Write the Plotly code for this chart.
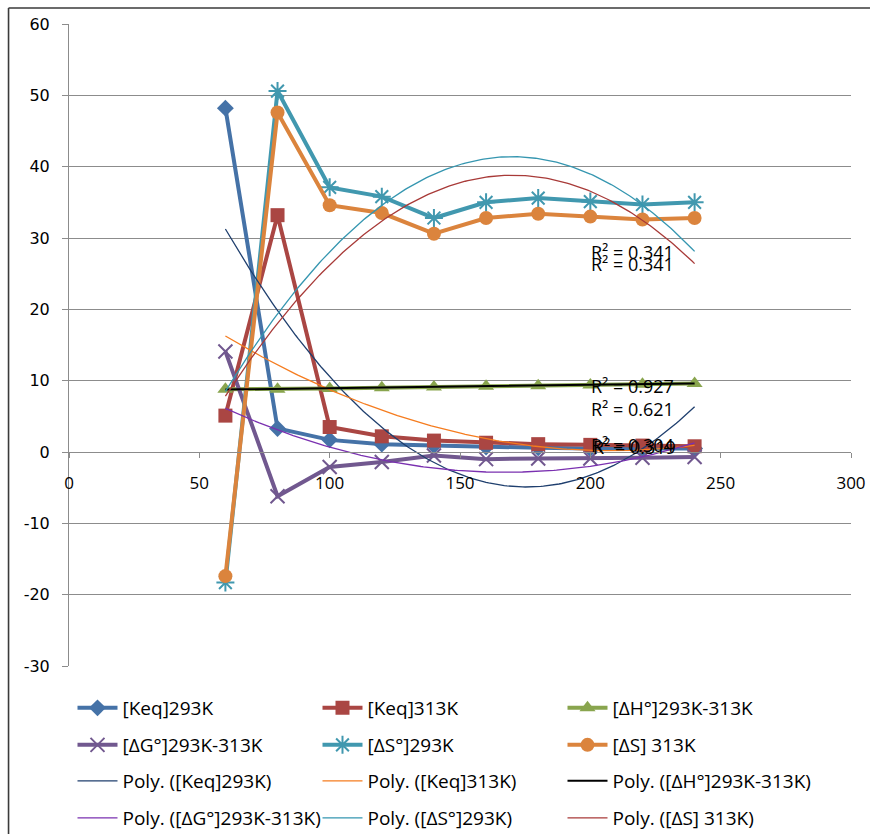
import numpy as np
import plotly.graph_objects as go

# ---- data ----
x_vals = [60, 80, 100, 120, 140, 160, 180, 200, 220, 240]
keq_293 = [48.2, 3.3, 1.7, 1.1, 0.9, 0.7, 0.6, 0.5, 0.5, 0.5]
keq_313 = [5.1, 33.2, 3.5, 2.2, 1.6, 1.3, 1.1, 1.0, 0.9, 0.8]
dh_293_313 = [8.8, 8.8, 8.9, 9.0, 9.1, 9.2, 9.3, 9.4, 9.5, 9.6]
dg_293_313 = [14.1, -6.2, -2.1, -1.4, -0.5, -1.0, -0.9, -0.9, -0.8, -0.7]
ds_293 = [-18.3, 50.6, 37.1, 35.8, 32.8, 35.0, 35.6, 35.1, 34.7, 35.0]
ds_313 = [-17.4, 47.6, 34.6, 33.5, 30.6, 32.8, 33.4, 33.0, 32.6, 32.8]

series_names = ["[Keq]293K", "[Keq]313K", "[ΔH°]293K-313K",
                "[ΔG°]293K-313K", "[ΔS°]293K", "[ΔS] 313K"]
r2_labels = ["R² = 0.341", "R² = 0.341", "R² = 0.927", "R² = 0.621",
             "R² = 0.304", "R² = 0.319"]
y_ticks = [-30, -20, -10, 0, 10, 20, 30, 40, 50, 60]
y_tick_labels = ["-30", "-20", "-10", "0", "10", "20", "30", "40", "50", "60"]
x_ticks = [0, 50, 100, 150, 200, 250, 300]
x_tick_labels = ["0", "50", "100", "150", "200", "250", "300"]

series_values = [keq_293, keq_313, dh_293_313, dg_293_313, ds_293, ds_313]

# ---- styles ----
FONT = "Open Sans, Liberation Sans, sans-serif"
data_colors = ["#4572A7", "#AA4643", "#89A54E", "#71588F", "#4198AF", "#DB843D"]
markers = [
    dict(symbol="diamond", size=13),
    dict(symbol="square", size=14),
    dict(symbol="triangle-up", size=14),
    dict(symbol="x-thin-open", size=14, line=dict(width=2)),
    dict(symbol="asterisk-open", size=15, line=dict(width=2)),
    dict(symbol="circle", size=14),
]
trend_colors = ["#1F3F6E", "#F57C1F", "#000000", "#7A30B0", "#3596B0", "#A83A38"]
trend_widths = [1.3, 1.3, 2.0, 1.3, 1.3, 1.3]
legend_ids = ["legend", "legend", "legend", "legend2", "legend2", "legend2"]
trend_legend_ids = ["legend3", "legend3", "legend3", "legend4", "legend4", "legend4"]
entry_widths = [190, 190, 240, 190, 190, 240]

fig = go.Figure()

for name, vals, col, mk, lg, ew in zip(series_names, series_values, data_colors,
                                        markers, legend_ids, entry_widths):
    m = dict(mk)
    m["color"] = col
    if "line" in m:
        m["line"] = dict(width=m["line"]["width"], color=col)
    fig.add_trace(go.Scatter(x=x_vals, y=vals, mode="lines+markers", name=name,
                             line=dict(color=col, width=4), marker=m,
                             legend=lg, legendwidth=ew))

xs = np.array(x_vals, dtype=float)
xfit = np.linspace(min(x_vals), max(x_vals), 181)
for name, vals, col, w, lg, ew in zip(series_names, series_values, trend_colors,
                                       trend_widths, trend_legend_ids, entry_widths):
    coef = np.polyfit(xs, np.array(vals, dtype=float), 2)
    fig.add_trace(go.Scatter(x=xfit, y=np.polyval(coef, xfit), mode="lines",
                             name=f"Poly. ({name})",
                             line=dict(color=col, width=w), legend=lg,
                             legendwidth=ew))

# R² labels
r2_pos = [(199.5, 28.0), (199.5, 26.4), (199.5, 9.3), (199.5, 6.0),
          (199.5, 0.95), (200.1, 0.65)]
for txt, (ax, ay) in zip(r2_labels, r2_pos):
    fig.add_annotation(x=ax, y=ay, text=txt, showarrow=False, xanchor="left",
                       yanchor="middle", font=dict(family=FONT, size=18, color="#000"))

# figure fills the page (body margin removed); plot area x 68.5..851, y 24..666
W, H = 870, 834
L, R, T, B = 68.5, 19, 24, 168
pw, ph = W - L - R, H - T - B

def px_x(p):
    return (p - L) / pw

def px_y(p):
    return (H - B - p) / ph

legend_common = dict(orientation="h", entrywidth=190, entrywidthmode="pixels",
                      xanchor="left", yanchor="middle",
                      font=dict(family=FONT, size=19, color="#000"),
                      bgcolor="rgba(0,0,0,0)", itemwidth=40)
row_y = [708, 745, 781, 818]
layout_legends = {}
for key, ry in zip(["legend", "legend2", "legend3", "legend4"], row_y):
    layout_legends[key] = dict(legend_common, x=px_x(72), y=px_y(ry))

fig.update_layout(
    width=W, height=H,
    margin=dict(l=L, r=R, t=T, b=B, pad=0, autoexpand=False),
    paper_bgcolor="white", plot_bgcolor="white",
    showlegend=True,
    font=dict(family=FONT, size=15, color="#000"),
    **layout_legends,
)

fig.update_yaxes(range=[-30, 60], tickvals=y_ticks, ticktext=y_tick_labels,
                 showgrid=True, gridcolor="#8C8C8C", gridwidth=1, zeroline=False,
                 showline=True, linecolor="#8C8C8C", linewidth=1,
                 ticks="outside", ticklen=6, tickcolor="#8C8C8C",
                 ticklabelstandoff=9,
                 tickfont=dict(family="DejaVu Sans, sans-serif", size=16, color="#000"))
fig.update_xaxes(range=[0, 300], tickvals=x_ticks, ticktext=x_tick_labels,
                 showgrid=False, zeroline=False, showline=True, linecolor="#8C8C8C",
                 linewidth=1, anchor="free", position=1 / 3,
                 ticks="outside", ticklen=5, tickcolor="#8C8C8C",
                 ticklabelstandoff=11, ticklabeloverflow="allow",
                 tickfont=dict(family=FONT, size=17, color="#000"))

# outer chart border: only the top and left edges show in the frame
fig.add_shape(type="line", xref="paper", yref="paper",
              x0=px_x(8), x1=px_x(W), y0=px_y(8), y1=px_y(8),
              line=dict(color="#3A3A3A", width=1.6), layer="below")
fig.add_shape(type="line", xref="paper", yref="paper",
              x0=px_x(8), x1=px_x(8), y0=px_y(8), y1=px_y(H),
              line=dict(color="#3A3A3A", width=1.6), layer="below")

fig.write_html(
    "out.html",
    config={"displayModeBar": False},
    post_script="document.body.style.margin='0';"
                "document.documentElement.style.overflow='hidden';"
                "document.body.style.overflow='hidden';",
)
